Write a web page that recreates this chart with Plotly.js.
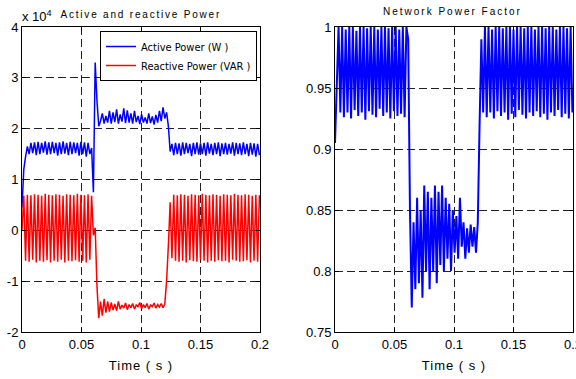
<!DOCTYPE html>
<html><head><meta charset="utf-8">
<script src="https://cdn.plot.ly/plotly-3.0.1.min.js"></script>
<style>html,body{margin:0;padding:0;background:#fff;} #chart{width:576px;height:379px;}</style>
</head><body><div id="chart"></div>
<script>
// sampling of the recorded signals (seconds)
const sampleStart = 0;
const sampleStep = 0.0015;

// Active power, in units of 10^4 W
const activePower = [
  0.45, 1.2, 1.45, 1.65, 1.5, 1.72, 1.52, 1.73, 1.48, 1.74,
  1.5, 1.72, 1.53, 1.75, 1.49, 1.73, 1.5, 1.74, 1.52, 1.72,
  1.47, 1.73, 1.5, 1.75, 1.51, 1.72, 1.48, 1.74, 1.5, 1.73,
  1.52, 1.72, 1.47, 1.74, 1.5, 1.73, 1.45, 1.72, 1.5, 1.62,
  0.75, 3.3, 2.55, 2.05, 2.15, 2.3, 2.1, 2.25, 2.12, 2.35,
  2.1, 2.32, 2.13, 2.38, 2.1, 2.28, 2.14, 2.4, 2.11, 2.36,
  2.12, 2.3, 2.1, 2.35, 2.13, 2.25, 2.09, 2.28, 2.12, 2.22,
  2.1, 2.3, 2.11, 2.24, 2.08, 2.27, 2.12, 2.35, 2.15, 2.42,
  2.2, 2.32, 2.05, 1.55, 1.7, 1.48, 1.72, 1.5, 1.71, 1.47,
  1.73, 1.5, 1.72, 1.52, 1.7, 1.46, 1.72, 1.5, 1.73, 1.49,
  1.71, 1.5, 1.72, 1.47, 1.73, 1.51, 1.7, 1.48, 1.72, 1.5,
  1.73, 1.46, 1.71, 1.5, 1.72, 1.49, 1.7, 1.51, 1.73, 1.47,
  1.72, 1.5, 1.71, 1.48, 1.73, 1.5, 1.7, 1.46, 1.72, 1.49,
  1.71, 1.45, 1.7, 1.48
];

// Reactive power, in units of 10^4 VAR
const reactivePower = [
  0.0, 0.68, -0.6, 0.7, -0.62, 0.69, -0.58, 0.71, -0.63, 0.7,
  -0.6, 0.68, -0.62, 0.72, -0.59, 0.7, -0.63, 0.69, -0.6, 0.71,
  -0.62, 0.7, -0.58, 0.68, -0.63, 0.71, -0.6, 0.7, -0.61, 0.69,
  -0.59, 0.72, -0.62, 0.7, -0.6, 0.69, -0.63, 0.71, -0.58, 0.68,
  -0.1, 0.05, -1.1, -1.73, -1.4, -1.68, -1.35, -1.62, -1.4, -1.6,
  -1.42, -1.57, -1.45, -1.58, -1.4, -1.55, -1.47, -1.53, -1.43, -1.56,
  -1.46, -1.52, -1.44, -1.55, -1.47, -1.5, -1.42, -1.54, -1.46, -1.52,
  -1.44, -1.55, -1.47, -1.5, -1.43, -1.53, -1.46, -1.51, -1.44, -1.52,
  -1.45, -1.0, -0.3, 0.55, -0.55, 0.7, -0.6, 0.69, -0.62, 0.71,
  -0.6, 0.7, -0.63, 0.68, -0.59, 0.71, -0.61, 0.7, -0.62, 0.69,
  -0.58, 0.72, -0.6, 0.7, -0.63, 0.69, -0.6, 0.71, -0.62, 0.7,
  -0.59, 0.68, -0.61, 0.71, -0.6, 0.7, -0.63, 0.69, -0.58, 0.72,
  -0.6, 0.7, -0.62, 0.69, -0.61, 0.71, -0.59, 0.7, -0.63, 0.68,
  -0.6, 0.7, -0.62, 0.69
];

// Network power factor
const powerFactor = [
  0.905, 0.96, 1.0, 0.93, 1.0, 0.926, 0.998, 0.93, 1.0, 0.925,
  1.0, 0.932, 0.997, 0.927, 1.0, 0.93, 1.0, 0.924, 0.999, 0.931,
  1.0, 0.928, 1.0, 0.926, 0.998, 0.933, 1.0, 0.927, 1.0, 0.93,
  0.999, 0.925, 1.0, 0.931, 1.0, 0.927, 0.998, 0.929, 1.0, 0.926,
  1.0, 0.99, 0.85, 0.77, 0.84, 0.785, 0.86, 0.79, 0.85, 0.778,
  0.87, 0.80, 0.865, 0.785, 0.86, 0.80, 0.87, 0.79, 0.865, 0.805,
  0.87, 0.80, 0.86, 0.81, 0.855, 0.80, 0.85, 0.815, 0.845, 0.81,
  0.86, 0.82, 0.84, 0.81, 0.835, 0.815, 0.838, 0.82, 0.836, 0.815,
  0.84, 0.92, 0.99, 0.93, 1.0, 0.926, 1.0, 0.93, 0.998, 0.925,
  1.0, 0.931, 1.0, 0.927, 0.999, 0.93, 1.0, 0.924, 1.0, 0.929,
  0.998, 0.926, 1.0, 0.932, 1.0, 0.928, 0.999, 0.925, 1.0, 0.93,
  1.0, 0.927, 0.998, 0.931, 1.0, 0.926, 1.0, 0.929, 0.999, 0.924,
  1.0, 0.93, 1.0, 0.927, 0.998, 0.932, 1.0, 0.926, 1.0, 0.929,
  0.999, 0.925, 1.0, 0.93
];

const seriesNames = ['Active Power (W )', 'Reactive Power (VAR )', 'Network Power Factor'];
const panelTitles = ['Active and reactive Power', 'Network Power Factor'];
const timeAxisTitle = 'Time ( s )';
const timeTicks = [0, 0.05, 0.1, 0.15, 0.2];
const timeTickLabels = ['0', '0.05', '0.1', '0.15', '0.2'];
const powerTicks = [-2, -1, 0, 1, 2, 3, 4];
const powerTickLabels = ['-2', '-1', '0', '1', '2', '3', '4'];
const pfTicks = [0.75, 0.8, 0.85, 0.9, 0.95, 1];
const pfTickLabels = ['0.75', '0.8', '0.85', '0.9', '0.95', '1'];
const powerExponent = 'x 10<sup>4</sup>';

const W = 576, H = 379;
const FONT = '"DejaVu Sans Condensed", "Liberation Sans Narrow", "Liberation Sans", Arial, sans-serif';
const TFONT = '"Liberation Sans", Arial, sans-serif';
const M = {l: 0, r: 0, t: 27, b: 47};
const plotH = H - M.t - M.b;
const px = v => v / W;
const py = v => (H - M.b - v) / plotH;

const traces = [
  {x0: sampleStart, dx: sampleStep, y: activePower, name: seriesNames[0], type: 'scatter', mode: 'lines',
   line: {color: '#0000ff', width: 1.5}, xaxis: 'x', yaxis: 'y'},
  {x0: sampleStart, dx: sampleStep, y: reactivePower, name: seriesNames[1], type: 'scatter', mode: 'lines',
   line: {color: '#ff0000', width: 1.5}, xaxis: 'x', yaxis: 'y'},
  {x0: sampleStart, dx: sampleStep, y: powerFactor, name: seriesNames[2], type: 'scatter', mode: 'lines',
   line: {color: '#0000ff', width: 2}, xaxis: 'x2', yaxis: 'y2', showlegend: false}
];

const axisBase = {
  showline: true, linecolor: '#000', linewidth: 1, mirror: 'ticks',
  ticks: 'inside', ticklen: 4, tickcolor: '#000', tickwidth: 1,
  showgrid: true, gridcolor: '#222', gridwidth: 1, griddash: '8px,4px',
  zeroline: false, tickfont: {family: TFONT, size: 13, color: '#000'},
  automargin: false, fixedrange: true, ticklabeloverflow: 'allow'
};
const xTitle = {text: timeAxisTitle, font: {family: TFONT, size: 13, color: '#000'}, standoff: 10};

const layout = {
  width: W, height: H, margin: M,
  paper_bgcolor: '#fff', plot_bgcolor: '#fff',
  showlegend: true,
  xaxis: Object.assign({}, axisBase, {domain: [px(22), px(260)], range: [0, 0.2], tickmode: 'array',
    tickvals: timeTicks, ticktext: timeTickLabels, anchor: 'y', title: xTitle}),
  yaxis: Object.assign({}, axisBase, {domain: [0, 1], range: [-2, 4], tickmode: 'array',
    tickvals: powerTicks, ticktext: powerTickLabels, anchor: 'x'}),
  xaxis2: Object.assign({}, axisBase, {domain: [px(335), px(573)], range: [0, 0.2], tickmode: 'array',
    tickvals: timeTicks, ticktext: timeTickLabels, anchor: 'y2', title: xTitle}),
  yaxis2: Object.assign({}, axisBase, {domain: [0, 1], range: [0.75, 1], tickmode: 'array',
    tickvals: pfTicks, ticktext: pfTickLabels, anchor: 'x2'}),
  legend: {x: px(257), xanchor: 'right', y: py(31), yanchor: 'top', bgcolor: '#fff',
    bordercolor: '#000', borderwidth: 1, font: {family: FONT, size: 11, color: '#000'},
    itemwidth: 30, tracegroupgap: 0},
  annotations: [
    {text: panelTitles[0], xref: 'paper', yref: 'paper', x: px(141), y: py(14), xanchor: 'center', yanchor: 'middle',
     showarrow: false, font: {family: TFONT, size: 10, color: '#000'}},
    {text: panelTitles[1], xref: 'paper', yref: 'paper', x: px(453), y: py(12), xanchor: 'center', yanchor: 'middle',
     showarrow: false, font: {family: TFONT, size: 10, color: '#000'}},
    {text: powerExponent, xref: 'paper', yref: 'paper', x: px(20), y: py(16), xanchor: 'left', yanchor: 'middle',
     showarrow: false, font: {family: TFONT, size: 13, color: '#000'}}
  ]
};

Plotly.newPlot('chart', traces, layout, {staticPlot: true, displayModeBar: false}).then(gd => {
  const ann = gd.querySelectorAll('.annotation-text');
  if (ann[0]) ann[0].style.letterSpacing = '1.8px';
  if (ann[1]) ann[1].style.letterSpacing = '2px';
  gd.querySelectorAll('.xtitle, .x2title').forEach(t => { t.style.letterSpacing = '1px'; });
});
</script>
</body></html>
